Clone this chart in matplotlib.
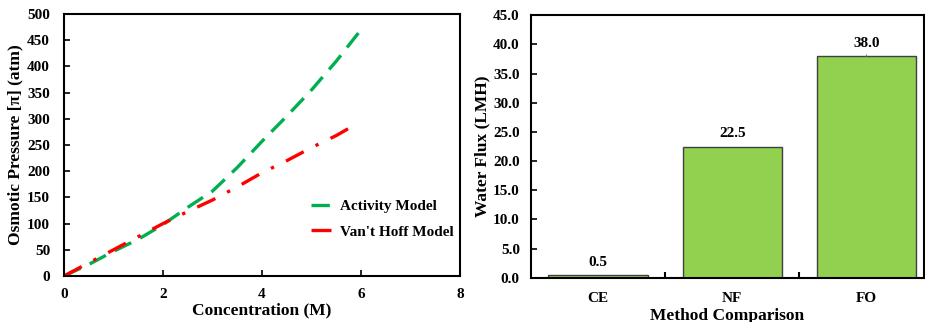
import matplotlib
matplotlib.use('Agg')
import matplotlib.pyplot as plt
import numpy as np

plt.rcParams['font.family'] = ['Liberation Serif', 'DejaVu Serif']
plt.rcParams['font.weight'] = 'bold'

# left panel: osmotic pressure vs concentration
conc_activity = [0, 0.5, 1, 1.5, 2, 2.5, 3, 3.5, 4, 4.5, 5, 5.5, 6]
pressure_activity = [0, 22, 47, 70, 98, 131, 162, 207, 257, 305, 355, 410, 470]
conc_vanthoff = [0, 0.5, 1, 1.5, 2, 2.5, 3, 3.5, 4, 4.5, 5, 5.5, 5.85]
pressure_vanthoff = [0, 25, 50, 75, 100, 123, 145, 170, 197, 220, 245, 268, 287]

# right panel: water flux by method
methods = ['CE', 'NF', 'FO']
water_flux = [0.5, 22.5, 38.0]

fig = plt.figure(figsize=(9.25, 3.22), dpi=100)
ax1 = fig.add_axes([0.0692, 0.143, 0.4281, 0.8135])
ax2 = fig.add_axes([0.574, 0.137, 0.425, 0.816])

ax1.plot(conc_activity, pressure_activity, color='#00B050', lw=2.4,
         dashes=(5.5, 3), label='Activity Model')
ax1.plot(conc_vanthoff, pressure_vanthoff, color='#FF0000', lw=2.4,
         dashes=(6, 4, 1, 4), label="Van't Hoff Model")
ax1.set_xlim(0, 8)
ax1.set_ylim(0, 500)
ax1.set_xticks(range(0, 9, 2))
ax1.set_yticks(range(0, 501, 50))
ax1.set_xlabel('Concentration (M)', fontsize=12.5, fontweight='bold', labelpad=0.5)
ax1.set_ylabel('Osmotic Pressure [π] (atm)', fontsize=12.5, fontweight='bold', labelpad=3)
ax1.legend(loc='lower right', bbox_to_anchor=(1.02, 0.09), frameon=False,
           handlelength=1.75, handletextpad=0.15, labelspacing=0.75,
           prop={'weight': 'bold', 'size': 11})
ax1.tick_params(axis='x', pad=9)
ax1.tick_params(axis='y', pad=10)

x = np.arange(len(methods))
ax2.bar(x, water_flux, width=0.74, color='#92D050', edgecolor='#404040', linewidth=1.0)
ax2.errorbar([x[2]], [water_flux[2]], yerr=[[0], [0.4]], fmt='none',
             ecolor='#7f7f7f', elinewidth=0.8)
for xi, v in zip(x, water_flux):
    ax2.text(xi, v + 2.2, f'{v:.1f}', ha='center', va='center',
             fontsize=11, fontweight='bold')
ax2.set_xlim(-0.5, 2.43)
ax2.set_ylim(0, 45)
ax2.set_yticks(np.arange(0, 45.1, 5))
ax2.set_yticklabels([f'{t:.1f}' for t in np.arange(0, 45.1, 5)])
ax2.set_xticks(x)
ax2.set_xticklabels(methods)
ax2.set_xticks([0.5, 1.5], minor=True)
ax2.set_xlabel('Method Comparison', fontsize=12.5, fontweight='bold', labelpad=1.5)
ax2.set_ylabel('Water Flux (LMH)', fontsize=12.5, fontweight='bold', labelpad=2)

for ax in (ax1, ax2):
    for s in ax.spines.values():
        s.set_linewidth(1.5)
    ax.tick_params(direction='in', labelsize=11, width=1.2, length=4)
    for lbl in ax.get_xticklabels() + ax.get_yticklabels():
        lbl.set_fontweight('bold')

ax2.tick_params(axis='x', which='major', length=0, pad=10.5)
ax2.tick_params(axis='x', which='minor', direction='in', length=4, width=1.5)
ax2.tick_params(axis='y', pad=8)

fig.savefig('out.png', dpi=100)
